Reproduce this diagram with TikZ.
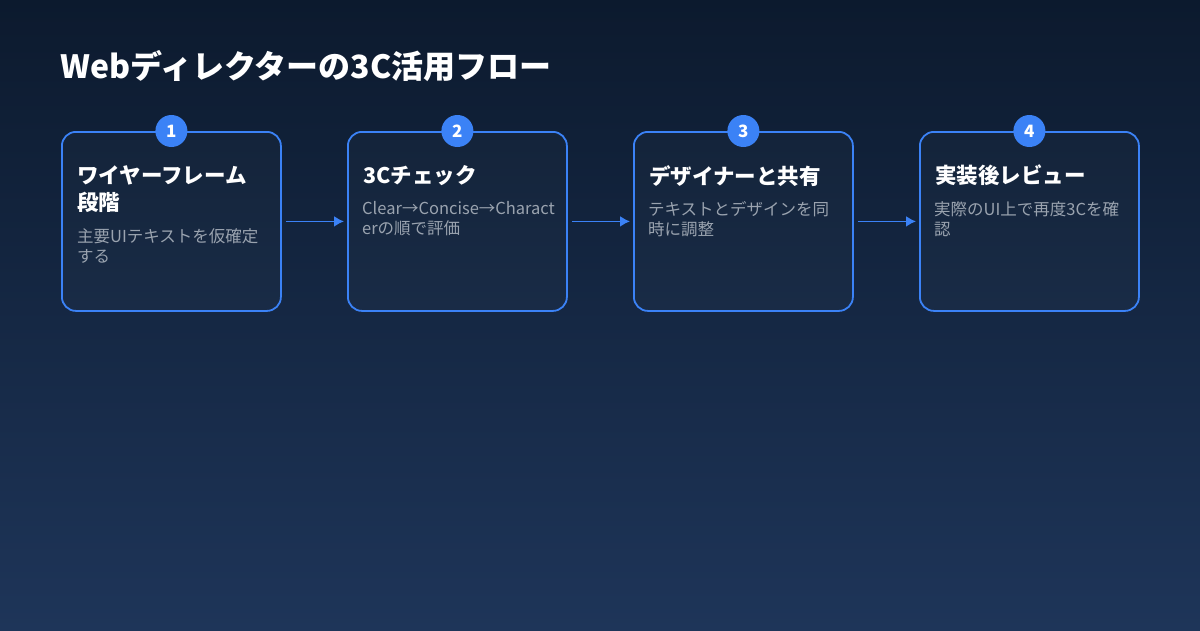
\documentclass[tikz,border=0pt]{standalone}
\usepackage{fontspec}
\usetikzlibrary{arrows.meta}
\setmainfont{Noto Sans CJK JP}
\definecolor{bgtop}{HTML}{0C1A2E}
\definecolor{bgbot}{HTML}{1E3559}
\definecolor{accent}{HTML}{3B82F6}
\definecolor{desc}{HTML}{9AA3AF}
\begin{document}
\begin{tikzpicture}[x=1pt,y=-1pt,
  card/.style={draw=accent,line width=1.8pt,rounded corners=14pt,fill=white,fill opacity=0.02,draw opacity=1,minimum width=219pt,minimum height=179pt,anchor=north west},
  badge/.style={circle,fill=accent,minimum size=32pt,inner sep=0pt,text=white,font=\bfseries\fontsize{17}{17}\selectfont},
  head/.style={anchor=north west,text=white,font=\bfseries\fontsize{21.5}{27}\selectfont,align=left,inner sep=0pt},
  body/.style={anchor=north west,text=desc,font=\fontsize{16.5}{20}\selectfont,align=left,inner sep=0pt},
  link/.style={draw=accent,line width=1.8pt,-{Latex[length=10pt,width=11pt]}}]
\useasboundingbox (0,0) rectangle (1200,630);
\shade[top color=bgtop,bottom color=bgbot] (0,0) rectangle (1200,630);
\node[anchor=west,text=white,font=\bfseries\fontsize{32}{32}\selectfont,inner sep=0pt] (title) at (60,66) {Webディレクターの3C活用フロー};
\foreach \i/\x/\h in {
 1/61/{ワイヤーフレーム\\段階},
 2/347/{3Cチェック},
 3/633/{デザイナーと共有},
 4/919/{実装後レビュー}}{
 \node[card] (c\i) at (\x,131) {};
 \node[badge] (n\i) at (c\i.north) {\i};
 \node[head] (h\i) at (\x+16,165) {\h};
}
\node[body] (b1) at (77,228) {主要UIテキストを仮確定\\する};
\node[body] (b2) at (362,201) {Clear→Concise→Charact\\erの順で評価};
\node[body] (b3) at (648,201) {テキストとデザインを同\\時に調整};
\node[body] (b4) at (934,201) {実際のUI上で再度3Cを確\\認};
\foreach \a/\b in {1/2,2/3,3/4}{
 \draw[link] ([xshift=4pt]c\a.east) -- ([xshift=-3pt]c\b.west);
}
\end{tikzpicture}
\end{document}
